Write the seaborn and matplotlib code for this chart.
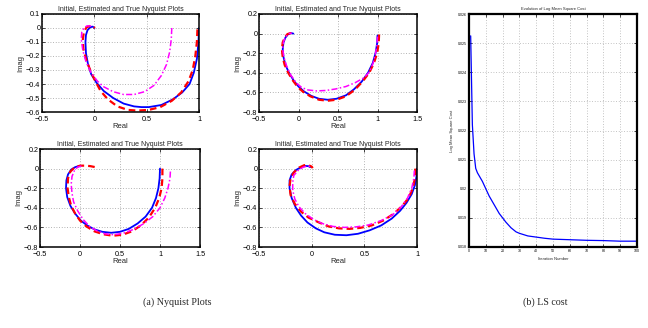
import matplotlib
matplotlib.use("Agg")
import matplotlib.pyplot as plt
import seaborn as sns
import pandas as pd

# ---------------- data ----------------
# Top-left Nyquist
tl_true_x = [1.0, 0.995, 0.98, 0.95, 0.91, 0.84, 0.75, 0.64, 0.52, 0.45, 0.38, 0.28, 0.18, 0.09, 0.02, -0.03, -0.06, -0.08, -0.085, -0.08, -0.065, -0.04, -0.015, 0.0]
tl_true_y = [0.0, -0.1, -0.22, -0.32, -0.4, -0.46, -0.51, -0.55, -0.565, -0.565, -0.56, -0.54, -0.5, -0.45, -0.39, -0.33, -0.26, -0.18, -0.1, -0.05, -0.015, 0.005, 0.01, 0.0]
tl_est_x = [0.985, 0.98, 0.965, 0.94, 0.9, 0.83, 0.74, 0.63, 0.52, 0.41, 0.32, 0.22, 0.13, 0.06, 0.01, -0.04, -0.08, -0.105, -0.11, -0.1, -0.075, -0.04, -0.01, 0.005]
tl_est_y = [-0.01, -0.1, -0.2, -0.3, -0.38, -0.46, -0.52, -0.565, -0.585, -0.59, -0.585, -0.56, -0.51, -0.45, -0.38, -0.3, -0.22, -0.15, -0.08, -0.03, 0.005, 0.015, 0.01, 0.0]
tl_init_x = [0.74, 0.735, 0.72, 0.69, 0.64, 0.57, 0.48, 0.38, 0.28, 0.18, 0.09, 0.03, -0.03, -0.08, -0.11, -0.125, -0.12, -0.1, -0.07, -0.03, -0.01]
tl_init_y = [0.0, -0.08, -0.17, -0.26, -0.34, -0.41, -0.455, -0.475, -0.475, -0.455, -0.42, -0.38, -0.32, -0.24, -0.16, -0.08, -0.03, 0.0, 0.015, 0.015, 0.005]

# Top-middle Nyquist
tm_true_x = [1.0, 0.995, 0.975, 0.94, 0.88, 0.8, 0.7, 0.6, 0.48, 0.37, 0.26, 0.16, 0.07, 0.0, -0.06, -0.12, -0.165, -0.19, -0.2, -0.19, -0.165, -0.13, -0.09, -0.065]
tm_true_y = [-0.02, -0.1, -0.2, -0.3, -0.4, -0.49, -0.57, -0.63, -0.665, -0.675, -0.665, -0.635, -0.59, -0.54, -0.48, -0.4, -0.32, -0.24, -0.16, -0.09, -0.04, -0.005, 0.005, 0.0]
tm_est_x = [1.02, 1.015, 0.995, 0.955, 0.895, 0.81, 0.71, 0.6, 0.48, 0.37, 0.26, 0.15, 0.06, -0.01, -0.07, -0.13, -0.175, -0.2, -0.21, -0.2, -0.175, -0.14, -0.1, -0.07]
tm_est_y = [-0.01, -0.1, -0.2, -0.3, -0.4, -0.49, -0.575, -0.64, -0.675, -0.685, -0.675, -0.64, -0.595, -0.545, -0.48, -0.4, -0.32, -0.24, -0.16, -0.09, -0.04, -0.005, 0.005, 0.0]
tm_init_x = [1.0, 0.995, 0.975, 0.945, 0.9, 0.83, 0.72, 0.6, 0.47, 0.35, 0.23, 0.12, 0.04, -0.03, -0.1, -0.15, -0.185, -0.2, -0.19, -0.16, -0.12, -0.085]
tm_init_y = [-0.03, -0.1, -0.2, -0.3, -0.39, -0.45, -0.5, -0.54, -0.565, -0.58, -0.585, -0.575, -0.55, -0.5, -0.42, -0.33, -0.24, -0.16, -0.08, -0.03, 0.0, 0.005]

# Bottom-left Nyquist
bl_true_x = [1.0, 0.995, 0.98, 0.95, 0.9, 0.82, 0.72, 0.61, 0.5, 0.39, 0.28, 0.18, 0.09, 0.01, -0.06, -0.12, -0.16, -0.175, -0.17, -0.15, -0.11, -0.06, -0.02, 0.0]
bl_true_y = [0.0, -0.1, -0.2, -0.3, -0.4, -0.49, -0.56, -0.615, -0.645, -0.655, -0.645, -0.62, -0.58, -0.53, -0.46, -0.38, -0.29, -0.2, -0.12, -0.06, -0.01, 0.015, 0.025, 0.025]
bl_est_x = [1.03, 1.03, 1.02, 0.99, 0.94, 0.86, 0.76, 0.65, 0.53, 0.41, 0.29, 0.18, 0.08, 0.0, -0.06, -0.11, -0.14, -0.155, -0.15, -0.12, -0.07, 0.0, 0.07, 0.13, 0.19]
bl_est_y = [0.0, -0.1, -0.2, -0.3, -0.4, -0.5, -0.58, -0.64, -0.675, -0.685, -0.67, -0.64, -0.59, -0.53, -0.46, -0.38, -0.29, -0.2, -0.1, -0.03, 0.01, 0.03, 0.03, 0.025, 0.015]
bl_init_x = [1.13, 1.125, 1.1, 1.06, 1.0, 0.91, 0.8, 0.67, 0.54, 0.42, 0.31, 0.21, 0.12, 0.04, -0.03, -0.08, -0.1, -0.11, -0.1, -0.07, -0.03, 0.01, 0.03]
bl_init_y = [-0.03, -0.1, -0.2, -0.3, -0.4, -0.49, -0.56, -0.62, -0.66, -0.675, -0.665, -0.635, -0.59, -0.52, -0.43, -0.34, -0.25, -0.16, -0.08, -0.02, 0.015, 0.025, 0.02]

# Bottom-middle Nyquist
bm_true_x = [1.0, 0.995, 0.98, 0.95, 0.9, 0.84, 0.76, 0.66, 0.55, 0.44, 0.33, 0.22, 0.12, 0.04, -0.04, -0.1, -0.15, -0.19, -0.21, -0.21, -0.19, -0.15, -0.1, -0.06, -0.03, -0.015]
bm_true_y = [0.0, -0.08, -0.17, -0.26, -0.35, -0.43, -0.51, -0.58, -0.63, -0.665, -0.68, -0.675, -0.65, -0.61, -0.55, -0.48, -0.4, -0.3, -0.2, -0.12, -0.06, -0.015, 0.015, 0.027, 0.025, 0.015]
bm_est_x = [0.985, 0.98, 0.96, 0.92, 0.86, 0.78, 0.68, 0.57, 0.46, 0.36, 0.26, 0.16, 0.07, -0.03, -0.1, -0.16, -0.2, -0.21, -0.2, -0.17, -0.12, -0.07, -0.03, 0.0, 0.01]
bm_est_y = [0.0, -0.1, -0.2, -0.3, -0.38, -0.46, -0.53, -0.58, -0.605, -0.615, -0.61, -0.59, -0.55, -0.5, -0.44, -0.36, -0.27, -0.18, -0.1, -0.04, 0.01, 0.035, 0.035, 0.02, 0.005]
bm_init_x = [0.975, 0.97, 0.95, 0.91, 0.85, 0.77, 0.66, 0.54, 0.42, 0.31, 0.2, 0.1, 0.02, -0.06, -0.12, -0.16, -0.18, -0.18, -0.17, -0.13, -0.08, -0.04, -0.01]
bm_init_y = [-0.02, -0.1, -0.2, -0.3, -0.39, -0.47, -0.53, -0.575, -0.595, -0.6, -0.59, -0.56, -0.52, -0.46, -0.39, -0.31, -0.22, -0.14, -0.07, -0.02, 0.015, 0.025, 0.02]

# LS cost
iterations = [1, 2, 3, 4, 5, 6, 8, 10, 12, 15, 18, 20, 22, 25, 28, 30, 35, 40, 45, 50, 60, 70, 80, 90, 100]
cost = [0.02525, 0.0222, 0.0212, 0.0207, 0.02055, 0.02045, 0.02025, 0.0200, 0.01975, 0.01945, 0.01915, 0.0190,
        0.01885, 0.01866, 0.01852, 0.01847, 0.01838, 0.01834, 0.0183, 0.01827, 0.01825, 0.01823, 0.01822, 0.0182, 0.0182]
cost_yticks = [0.018, 0.019, 0.020, 0.021, 0.022, 0.023, 0.024, 0.025, 0.026]
cost_yticklabels = ["0.018", "0.019", "0.02", "0.021", "0.022", "0.023", "0.024", "0.025", "0.026"]
cost_xticks = [0, 10, 20, 30, 40, 50, 60, 70, 80, 90, 100]

nyquist_title = "Initial, Estimated and True Nyquist Plots"

# ---------------- figure ----------------
sns.set_theme(style="white")
plt.rcParams['font.family'] = ['Liberation Sans', 'DejaVu Sans']
plt.rcParams['axes.unicode_minus'] = True

W, H = 648, 328
fig = plt.figure(figsize=(W / 100, H / 100), dpi=100)
fig.patch.set_facecolor("white")


def px_axes(x0, y0, x1, y1):
    return fig.add_axes([x0 / W, 1 - y1 / H, (x1 - x0) / W, (y1 - y0) / H])


def style_axes(ax, fs, lw, gridc="#9a9a9a"):
    ax.set_facecolor("white")
    for s in ax.spines.values():
        s.set_visible(True)
        s.set_color("black")
        s.set_linewidth(lw)
    ax.tick_params(direction="in", length=2, width=0.5, labelsize=fs, pad=1.2,
                   top=True, right=True, bottom=True, left=True, colors="black")
    ax.tick_params(axis="x", pad=2.8)
    ax.grid(True, linestyle=(0, (1, 2.2)), color=gridc, linewidth=0.6)
    ax.set_axisbelow(True)


panels = [
    ((42, 14, 199, 112), (-0.5, 1.0), (-0.6, 0.1), [-0.5, 0, 0.5, 1], [-0.6, -0.5, -0.4, -0.3, -0.2, -0.1, 0, 0.1],
     (tl_init_x, tl_init_y), (tl_est_x, tl_est_y), (tl_true_x, tl_true_y)),
    ((259, 14, 417, 112), (-0.5, 1.5), (-0.8, 0.2), [-0.5, 0, 0.5, 1, 1.5], [-0.8, -0.6, -0.4, -0.2, 0, 0.2],
     (tm_init_x, tm_init_y), (tm_est_x, tm_est_y), (tm_true_x, tm_true_y)),
    ((40, 149, 200, 247), (-0.5, 1.5), (-0.8, 0.2), [-0.5, 0, 0.5, 1, 1.5], [-0.8, -0.6, -0.4, -0.2, 0, 0.2],
     (bl_init_x, bl_init_y), (bl_est_x, bl_est_y), (bl_true_x, bl_true_y)),
    ((259, 149, 417, 247), (-0.5, 1.0), (-0.8, 0.2), [-0.5, 0, 0.5, 1], [-0.8, -0.6, -0.4, -0.2, 0, 0.2],
     (bm_init_x, bm_init_y), (bm_est_x, bm_est_y), (bm_true_x, bm_true_y)),
]


def fmt(v):
    s = ("%g" % v)
    return s.replace("-", "\u2212")


for box, xl, yl, xt, yt, init, est, true in panels:
    ax = px_axes(*box)
    style_axes(ax, 5.2, 1.1)
    sns.lineplot(x=true[0], y=true[1], sort=False, ax=ax, color="#0000ff", linewidth=1.3,
                 estimator=None)
    sns.lineplot(x=est[0], y=est[1], sort=False, ax=ax, color="#ff0000", linewidth=1.6,
                 linestyle=(0, (3, 1.8)), estimator=None)
    sns.lineplot(x=init[0], y=init[1], sort=False, ax=ax, color="#ff00ff", linewidth=1.1,
                 linestyle=(0, (4, 1.5, 1, 1.5)), estimator=None)
    ax.set_xlim(*xl)
    ax.set_ylim(*yl)
    ax.set_xticks(xt)
    ax.set_xticklabels([fmt(v) for v in xt])
    ax.set_yticks(yt)
    ax.set_yticklabels([fmt(round(v, 1)) for v in yt])
    ax.set_title(nyquist_title, fontsize=5.0, pad=2.5)
    ax.set_xlabel("Real", fontsize=5.5, labelpad=0.2)
    ax.set_ylabel("Imag", fontsize=5.5, labelpad=1)

# right panel
axr = px_axes(469, 14, 637, 247)
style_axes(axr, 2.6, 1.6, gridc="#b0b0b0")
axr.tick_params(length=2.5, pad=1.5)
sns.lineplot(x=iterations, y=cost, ax=axr, color="#0000ff", linewidth=0.9, estimator=None)
axr.set_xlim(0, 100)
axr.set_ylim(0.018, 0.026)
axr.set_xticks(cost_xticks)
axr.set_yticks(cost_yticks)
axr.set_yticklabels(cost_yticklabels)
axr.set_title("Evolution of Log Mean Square Cost", fontsize=3.0, pad=3)
axr.set_xlabel("Iteration Number", fontsize=3.0, labelpad=2.5)
axr.set_ylabel("Log Mean Square Cost", fontsize=3.0, labelpad=3)

# captions
fig.text(177 / W, 1 - 302 / H, "(a) Nyquist Plots", ha="center", va="center",
         fontsize=7.2, family=["Liberation Serif", "DejaVu Serif"])
fig.text(545 / W, 1 - 302 / H, "(b) LS cost", ha="center", va="center",
         fontsize=7.2, family=["Liberation Serif", "DejaVu Serif"])

fig.savefig("out.png", dpi=100, facecolor="white")
